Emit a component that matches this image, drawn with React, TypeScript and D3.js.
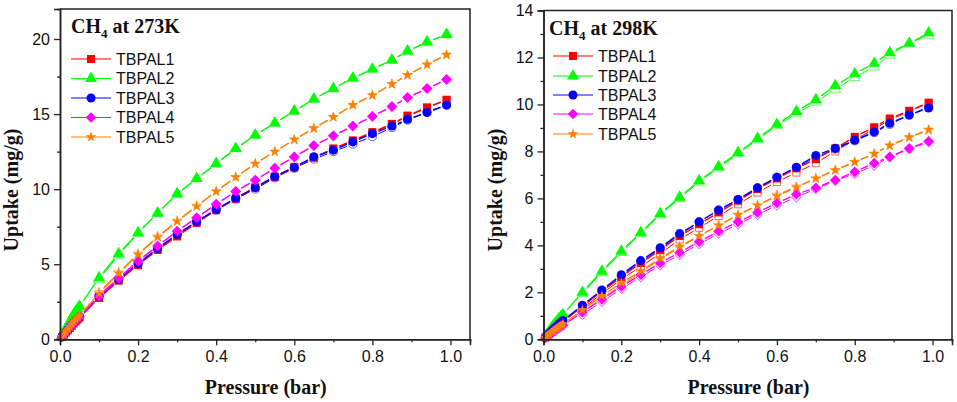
import { useRef, useEffect } from 'react'
import * as d3 from 'd3'

const names = ['TBPAL1', 'TBPAL2', 'TBPAL3', 'TBPAL4', 'TBPAL5']
const colors = ['#ff0000', '#00ff00', '#0000ff', '#ff00ff', '#ff8000']
const shapes = [d3.symbolSquare, d3.symbolTriangle, d3.symbolCircle, d3.symbolSquare, d3.symbolStar]
const shapeAreas = [64, 62, 64, 56, 36]
const shapeRotate = [0, 0, 0, 45, 0]

const pressure = [
  0.005, 0.01, 0.015, 0.02, 0.025, 0.03, 0.035, 0.04, 0.045, 0.05, 0.1, 0.15, 0.2, 0.25, 0.3, 0.35, 0.4, 0.45, 0.5,
  0.55, 0.6, 0.65, 0.7, 0.75, 0.8, 0.85, 0.89, 0.94, 0.99,
]
const pressureBack = pressure.slice(10)

// CH4 at 273K
const ads273 = [
  [0.15, 0.3, 0.45, 0.6, 0.75, 0.9, 1.05, 1.2, 1.32, 1.45, 2.75, 3.9, 4.95, 5.95, 6.85, 7.75, 8.6, 9.35, 10.1, 10.8, 11.45, 12.1, 12.7, 13.25, 13.8, 14.35, 14.9, 15.45, 15.95],
  [0.25, 0.48, 0.72, 0.95, 1.2, 1.42, 1.65, 1.85, 2.02, 2.2, 4.1, 5.7, 7.1, 8.4, 9.7, 10.7, 11.7, 12.7, 13.6, 14.4, 15.2, 16.0, 16.7, 17.4, 18.0, 18.6, 19.2, 19.8, 20.3],
  [0.16, 0.32, 0.48, 0.64, 0.8, 0.95, 1.1, 1.25, 1.38, 1.5, 2.85, 4.0, 5.05, 6.05, 7.0, 7.85, 8.65, 9.4, 10.1, 10.85, 11.45, 12.15, 12.6, 13.15, 13.7, 14.2, 14.65, 15.1, 15.6],
  [0.16, 0.32, 0.48, 0.64, 0.8, 0.95, 1.1, 1.25, 1.38, 1.5, 2.85, 4.05, 5.2, 6.2, 7.2, 8.1, 9.0, 9.85, 10.6, 11.4, 12.15, 12.9, 13.55, 14.2, 14.85, 15.5, 16.1, 16.7, 17.3],
  [0.17, 0.34, 0.5, 0.67, 0.84, 1.0, 1.16, 1.32, 1.46, 1.6, 3.05, 4.4, 5.65, 6.8, 7.85, 8.85, 9.85, 10.8, 11.7, 12.5, 13.3, 14.05, 14.8, 15.6, 16.25, 17.0, 17.6, 18.3, 18.95],
]
const des273 = [
  [2.8, 3.95, 5.0, 6.0, 6.95, 7.85, 8.65, 9.4, 10.15, 10.85, 11.5, 12.1, 12.7, 13.2, 13.75, 14.3, 14.85, 15.4, 15.95],
  [4.0, 5.6, 7.05, 8.4, 9.65, 10.7, 11.7, 12.7, 13.6, 14.4, 15.2, 16.0, 16.7, 17.4, 18.0, 18.6, 19.2, 19.8, 20.3],
  [2.85, 4.0, 5.05, 6.05, 6.95, 7.8, 8.6, 9.35, 10.0, 10.75, 11.4, 12.0, 12.5, 13.0, 13.5, 14.1, 14.6, 15.15, 15.6],
  [2.95, 4.1, 5.25, 6.25, 7.2, 8.1, 9.0, 9.85, 10.6, 11.4, 12.15, 12.9, 13.55, 14.2, 14.85, 15.5, 16.1, 16.7, 17.3],
  [3.15, 4.45, 5.7, 6.85, 7.9, 8.9, 9.85, 10.8, 11.7, 12.5, 13.3, 14.05, 14.8, 15.6, 16.25, 17.0, 17.6, 18.3, 18.95],
]

// CH4 at 298K
const ads298 = [
  [0.08, 0.16, 0.24, 0.32, 0.4, 0.47, 0.54, 0.61, 0.68, 0.75, 1.4, 2.05, 2.65, 3.25, 3.8, 4.4, 4.9, 5.4, 5.9, 6.4, 6.85, 7.28, 7.67, 8.13, 8.62, 9.03, 9.4, 9.73, 10.07],
  [0.12, 0.24, 0.36, 0.47, 0.58, 0.68, 0.78, 0.88, 0.97, 1.05, 2.0, 2.9, 3.75, 4.55, 5.35, 6.05, 6.75, 7.35, 7.95, 8.55, 9.15, 9.7, 10.2, 10.8, 11.3, 11.75, 12.2, 12.6, 13.05],
  [0.09, 0.17, 0.26, 0.34, 0.42, 0.5, 0.58, 0.66, 0.73, 0.8, 1.45, 2.1, 2.75, 3.35, 3.9, 4.5, 5.0, 5.5, 5.95, 6.45, 6.9, 7.33, 7.83, 8.13, 8.48, 8.83, 9.2, 9.55, 9.85],
  [0.06, 0.13, 0.19, 0.25, 0.31, 0.37, 0.43, 0.49, 0.55, 0.6, 1.15, 1.7, 2.25, 2.75, 3.25, 3.7, 4.15, 4.6, 5.0, 5.4, 5.8, 6.18, 6.45, 6.78, 7.13, 7.5, 7.77, 8.13, 8.43],
  [0.07, 0.14, 0.21, 0.28, 0.34, 0.41, 0.47, 0.53, 0.59, 0.65, 1.25, 1.85, 2.4, 2.9, 3.45, 3.95, 4.4, 4.85, 5.3, 5.7, 6.1, 6.47, 6.85, 7.2, 7.55, 7.9, 8.25, 8.6, 8.93],
]
const des298 = [
  [1.3, 1.95, 2.55, 3.1, 3.65, 4.25, 4.75, 5.25, 5.75, 6.25, 6.7, 7.1, 7.5, 8.0, 8.5, 8.95, 9.35, 9.7, 10.07],
  [1.95, 2.85, 3.7, 4.5, 5.3, 6.0, 6.7, 7.3, 7.9, 8.5, 9.1, 9.6, 10.1, 10.65, 11.15, 11.6, 12.1, 12.6, 12.95],
  [1.4, 2.05, 2.7, 3.3, 3.85, 4.45, 5.0, 5.5, 5.95, 6.45, 6.9, 7.3, 7.75, 8.1, 8.45, 8.8, 9.15, 9.55, 9.9],
  [1.05, 1.6, 2.15, 2.65, 3.15, 3.6, 4.05, 4.5, 4.9, 5.3, 5.7, 6.05, 6.4, 6.75, 7.05, 7.4, 7.75, 8.1, 8.4],
  [1.15, 1.75, 2.3, 2.85, 3.4, 3.9, 4.4, 4.85, 5.3, 5.7, 6.15, 6.5, 6.85, 7.2, 7.55, 7.9, 8.25, 8.6, 8.9],
]

const tickFont = '"Liberation Sans", Arial, sans-serif'
const labelFont = '"Liberation Serif", "Times New Roman", serif'
const axisColor = '#222'

type Panel = {
  temp: string
  ads: number[][]
  des: number[][]
  yMax: number
  yMajor: number[]
  yMinor: number[]
  left: number
  top: number
  right: number
  xEnd: number
  legendX: number
  legendY: number[]
  yLabelX: number
  titleX: number
  titleY: number
}

const panels: Panel[] = [
  {
    temp: '273K',
    ads: ads273,
    des: des273,
    yMax: 22,
    yMajor: [0, 5, 10, 15, 20],
    yMinor: [2.5, 7.5, 12.5, 17.5],
    left: 60,
    top: 9,
    right: 470,
    xEnd: 1.05,
    legendX: 71,
    legendY: [59, 78.5, 98, 117.5, 137],
    yLabelX: 18,
    titleX: 71,
    titleY: 33,
  },
  {
    temp: '298K',
    ads: ads298,
    des: des298,
    yMax: 14,
    yMajor: [0, 2, 4, 6, 8, 10, 12, 14],
    yMinor: [1, 3, 5, 7, 9, 11, 13],
    left: 543.5,
    top: 10.5,
    right: 952,
    xEnd: 1.05,
    legendX: 553,
    legendY: [56, 76, 95, 114, 134],
    yLabelX: 502,
    titleX: 549,
    titleY: 35,
  },
]

const bottom = 339.3

function drawPanel(root: d3.Selection<SVGSVGElement, unknown, null, undefined>, p: Panel) {
  const x = d3.scaleLinear().domain([0, p.xEnd]).range([p.left, p.right])
  const y = d3.scaleLinear().domain([0, p.yMax]).range([bottom, p.top])
  const g = root.append('g')

  const gap = 6.5
  const drawSeries = (xs: number[], ys: number[], s: number, open: boolean) => {
    const color = colors[s]
    const pts = xs.map((v, i) => [x(v), y(ys[i])] as [number, number])
    const line = d3.line()
    pts.slice(1).forEach((b, i) => {
      const a = pts[i]
      const d = Math.hypot(b[0] - a[0], b[1] - a[1])
      // Origin style: the line stops short of the symbol once points are far enough apart
      const t = d > gap * 2 ? gap / d : 0
      g.append('path')
        .attr('d', line([
          [a[0] + (b[0] - a[0]) * t, a[1] + (b[1] - a[1]) * t],
          [b[0] - (b[0] - a[0]) * t, b[1] - (b[1] - a[1]) * t],
        ]))
        .attr('fill', 'none')
        .attr('stroke', color)
        .attr('stroke-width', open ? 1 : 1.4)
    })
    pts.forEach((pt) => {
      g.append('path')
        .attr('d', d3.symbol(shapes[s], open ? shapeAreas[s] * 0.8 : shapeAreas[s])())
        .attr('transform', `translate(${pt[0]},${pt[1]}) rotate(${shapeRotate[s]})`)
        .attr('fill', open ? 'white' : color)
        .attr('fill-opacity', open ? 0.6 : 1)
        .attr('stroke', color)
        .attr('stroke-opacity', open ? 0.6 : 1)
        .attr('stroke-width', open ? 1 : 0)
    })
  }

  p.des.forEach((ys, i) => drawSeries(pressureBack, ys, i, true))
  p.ads.forEach((ys, i) => drawSeries(pressure, ys, i, false))

  // Frame
  g.append('path')
    .attr('d', d3.line()([[p.left, p.top], [p.right, p.top], [p.right, bottom]]))
    .attr('fill', 'none')
    .attr('stroke', axisColor)
    .attr('stroke-width', 1.5)

  // Axes
  const styleAxis = (a: d3.Selection<SVGGElement, unknown, null, undefined>) => {
    a.select('.domain').attr('stroke', axisColor).attr('stroke-width', 1.5)
    a.selectAll('line').attr('stroke', axisColor).attr('stroke-width', 1.3)
    a.selectAll('text').attr('fill', '#111').attr('font-size', '16px').attr('font-family', tickFont)
  }

  const yAxis = g.append('g').attr('transform', `translate(${p.left},0)`)
  yAxis.call(d3.axisLeft(y).tickValues(p.yMajor).tickFormat((d) => `${d}`).tickSize(6).tickPadding(4))
  styleAxis(yAxis)
  const yMinorAxis = g.append('g').attr('transform', `translate(${p.left},0)`)
  yMinorAxis.call(d3.axisLeft(y).tickValues(p.yMinor).tickFormat(() => '').tickSize(3))
  styleAxis(yMinorAxis)

  const xAxis = g.append('g').attr('transform', `translate(0,${bottom})`)
  xAxis.call(d3.axisBottom(x).tickValues([0, 0.2, 0.4, 0.6, 0.8, 1]).tickFormat(d3.format('.1f')).tickSize(6).tickPadding(5))
  styleAxis(xAxis)
  const xMinorAxis = g.append('g').attr('transform', `translate(0,${bottom})`)
  xMinorAxis.call(d3.axisBottom(x).tickValues([0.1, 0.3, 0.5, 0.7, 0.9]).tickFormat(() => '').tickSize(3))
  styleAxis(xMinorAxis)

  // Axis titles
  g.append('text')
    .attr('x', x(0.527))
    .attr('y', 394)
    .attr('text-anchor', 'middle')
    .attr('font-family', labelFont)
    .attr('font-weight', 'bold')
    .attr('font-size', '20px')
    .attr('fill', '#111')
    .text('Pressure (bar)')
  g.append('text')
    .attr('transform', `translate(${p.yLabelX},190) rotate(-90)`)
    .attr('text-anchor', 'middle')
    .attr('font-family', labelFont)
    .attr('font-weight', 'bold')
    .attr('font-size', '20px')
    .attr('fill', '#111')
    .text('Uptake (mg/g)')

  // Panel title
  const title = g.append('text')
    .attr('x', p.titleX)
    .attr('y', p.titleY)
    .attr('font-family', labelFont)
    .attr('font-weight', 'bold')
    .attr('font-size', '20px')
    .attr('fill', '#111')
  title.append('tspan').text('CH')
  title.append('tspan').attr('font-size', '13px').attr('dy', 5).text('4')
  title.append('tspan').attr('dy', -5).text(` at ${p.temp}`)

  // Legend
  names.forEach((name, i) => {
    const ly = p.legendY[i]
    g.append('line')
      .attr('x1', p.legendX)
      .attr('x2', p.legendX + 40)
      .attr('y1', ly)
      .attr('y2', ly)
      .attr('stroke', colors[i])
      .attr('stroke-width', 1.2)
    g.append('path')
      .attr('d', d3.symbol(shapes[i], shapeAreas[i])())
      .attr('transform', `translate(${p.legendX + 20},${ly}) rotate(${shapeRotate[i]})`)
      .attr('fill', colors[i])
    g.append('text')
      .attr('x', p.legendX + 45)
      .attr('y', ly + 5.5)
      .attr('font-family', tickFont)
      .attr('font-size', '16px')
      .attr('fill', '#111')
      .text(name)
  })
}

export default function App() {
  const svgRef = useRef<SVGSVGElement>(null)

  useEffect(() => {
    if (!svgRef.current) return
    const svg = d3.select(svgRef.current)
    svg.selectAll('*').remove()
    panels.forEach((p) => drawPanel(svg, p))
  }, [])

  return <svg ref={svgRef} width={957} height={402} style={{ position: 'absolute', left: 0, top: 0, background: 'white' }} />
}
